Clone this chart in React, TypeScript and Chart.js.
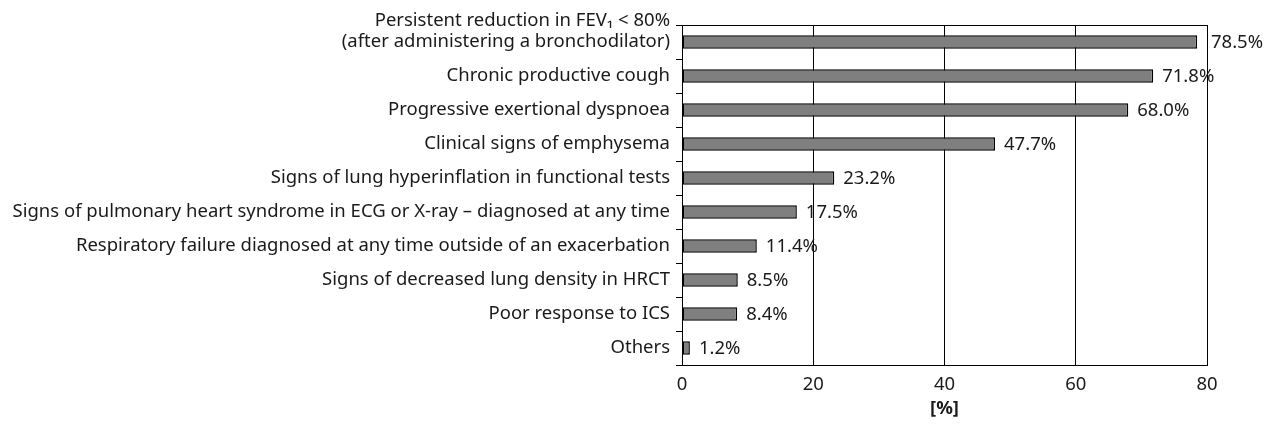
import React, { useEffect, useRef } from "react";
import { Chart, registerables } from "chart.js";

Chart.register(...registerables);

const categories: (string | string[])[] = [
  ["Persistent reduction in FEV\u2081 < 80%", "(after administering a bronchodilator)", ""],
  "Chronic productive cough",
  "Progressive exertional dyspnoea",
  "Clinical signs of emphysema",
  "Signs of lung hyperinflation in functional tests",
  "Signs of pulmonary heart syndrome in ECG or X-ray \u2013 diagnosed at any time",
  "Respiratory failure diagnosed at any time outside of an exacerbation",
  "Signs of decreased lung density in HRCT",
  "Poor response to ICS",
  "Others",
];
const values: number[] = [78.5, 71.8, 68.0, 47.7, 23.2, 17.5, 11.4, 8.5, 8.4, 1.2];
const xTicks: number[] = [0, 20, 40, 60, 80];
const axisTitle = "[%]";

const FONT = "'Noto Sans', 'Open Sans', sans-serif";
const FS = 18.5;

const valueLabels = {
  id: "valueLabels",
  afterDatasetsDraw(chart: any) {
    const ctx = chart.ctx;
    const meta = chart.getDatasetMeta(0);
    const right = chart.chartArea.right;
    ctx.save();
    ctx.font = `${FS}px ${FONT}`;
    ctx.fillStyle = "#1a1a1a";
    ctx.textAlign = "left";
    ctx.textBaseline = "middle";
    meta.data.forEach((bar: any, i: number) => {
      let x = bar.x + 9;
      if (x < right + 4 && x > right - 4) x = right + 4;
      ctx.fillText(values[i].toFixed(1) + "%", x, bar.y + 1);
    });
    ctx.restore();
  },
};

const topBorder = {
  id: "topBorder",
  afterDraw(chart: any) {
    const { ctx, chartArea } = chart;
    ctx.save();
    ctx.strokeStyle = "#000";
    ctx.lineWidth = 1;
    ctx.beginPath();
    ctx.moveTo(chartArea.left, Math.round(chartArea.top) + 0.5);
    ctx.lineTo(chartArea.right, Math.round(chartArea.top) + 0.5);
    ctx.stroke();
    ctx.restore();
  },
};

export default function App() {
  const ref = useRef<HTMLCanvasElement | null>(null);
  useEffect(() => {
    if (!ref.current) return;
    const chart = new Chart(ref.current, {
      type: "bar",
      data: {
        labels: categories,
        datasets: [
          {
            data: values,
            backgroundColor: "#7f7f7f",
            borderColor: "#000",
            borderWidth: 1.5,
            borderSkipped: false,
            barPercentage: 0.4,
            categoryPercentage: 1,
          },
        ],
      },
      options: {
        indexAxis: "y",
        animation: false,
        responsive: true,
        maintainAspectRatio: false,
        layout: { padding: { top: 17, right: 57, left: 0, bottom: 0 } },
        plugins: { legend: { display: false }, tooltip: { enabled: false } },
        scales: {
          x: {
            min: 0,
            max: 80,
            afterBuildTicks(scale: any) {
              scale.ticks = xTicks.map((v) => ({ value: v }));
            },
            afterFit(scale: any) {
              scale.height = 59;
            },
            grid: { color: "#000", lineWidth: 1, drawTicks: false },
            border: { color: "#000", width: 1 },
            ticks: { color: "#1a1a1a", font: { family: FONT, size: FS }, padding: 9 },
            title: {
              display: true,
              text: axisTitle,
              color: "#1a1a1a",
              font: { family: FONT, size: FS, weight: "bold" },
              padding: { top: 2, bottom: 4 },
            },
          },
          y: {
            afterFit(scale: any) {
              scale.width = 674;
            },
            grid: { drawOnChartArea: false, drawTicks: true, tickLength: 6, color: "#000", offset: true },
            border: { color: "#000", width: 1 },
            ticks: {
              autoSkip: false,
              color: "#1a1a1a",
              font: { family: FONT, size: FS, lineHeight: 1.15 },
              padding: 6,
            },
          },
        },
      },
      plugins: [valueLabels, topBorder],
    });
    return () => chart.destroy();
  }, []);
  return (
    <div style={{ position: "fixed", left: 8, top: 8, width: 1256, height: 416 }}>
      <canvas ref={ref} />
    </div>
  );
}
